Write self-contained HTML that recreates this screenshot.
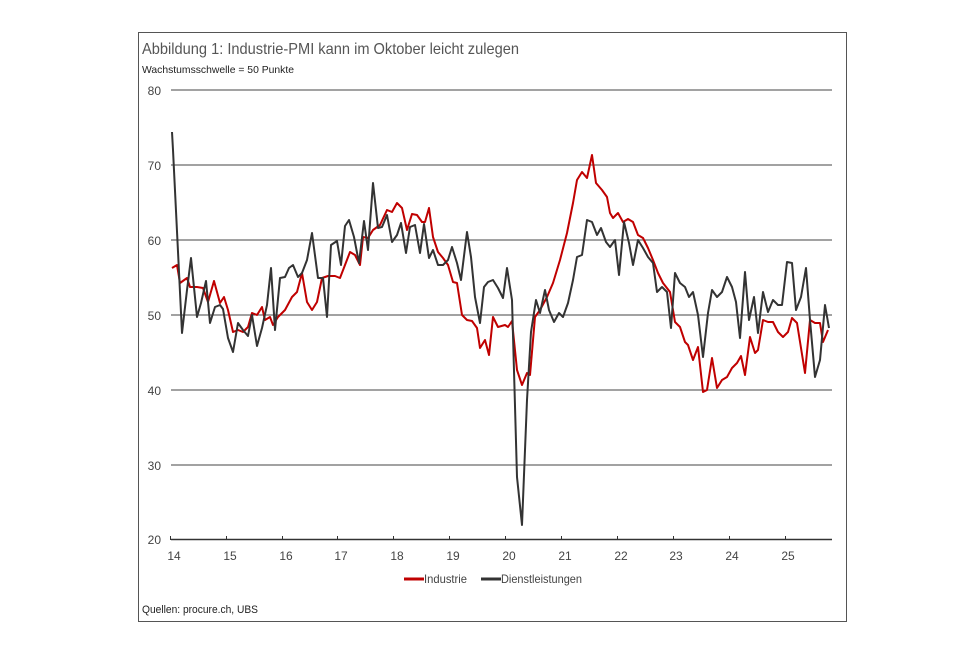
<!DOCTYPE html>
<html><head><meta charset="utf-8"><style>
body{margin:0;background:#fff;width:980px;height:655px;overflow:hidden;font-family:"Liberation Sans",sans-serif}
svg{position:absolute;left:0;top:0}
</style></head><body>
<svg width="980" height="655" viewBox="0 0 980 655" font-family="Liberation Sans, sans-serif">
<rect x="138.5" y="32.5" width="708" height="589" fill="none" stroke="#555" stroke-width="1"/>
<text x="142" y="54" font-size="16" fill="#555" textLength="377" lengthAdjust="spacingAndGlyphs">Abbildung 1: Industrie-PMI kann im Oktober leicht zulegen</text>
<text x="142" y="73" font-size="10.5" fill="#222" textLength="152" lengthAdjust="spacingAndGlyphs">Wachstumsschwelle = 50 Punkte</text>
<g stroke="#444" stroke-width="1">
<line x1="171" y1="90" x2="832" y2="90"/><line x1="171" y1="165" x2="832" y2="165"/>
<line x1="171" y1="240" x2="832" y2="240"/><line x1="171" y1="315" x2="832" y2="315"/>
<line x1="171" y1="390" x2="832" y2="390"/><line x1="171" y1="465" x2="832" y2="465"/>
</g>
<line x1="171" y1="539.5" x2="832" y2="539.5" stroke="#333" stroke-width="1.5"/>
<g stroke="#333" stroke-width="1">
<line x1="170.5" y1="536" x2="170.5" y2="540"/><line x1="226.5" y1="536" x2="226.5" y2="540"/><line x1="282.5" y1="536" x2="282.5" y2="540"/><line x1="337.5" y1="536" x2="337.5" y2="540"/><line x1="393.5" y1="536" x2="393.5" y2="540"/><line x1="449.5" y1="536" x2="449.5" y2="540"/><line x1="505.5" y1="536" x2="505.5" y2="540"/><line x1="561.5" y1="536" x2="561.5" y2="540"/><line x1="617.5" y1="536" x2="617.5" y2="540"/><line x1="673.5" y1="536" x2="673.5" y2="540"/><line x1="729.5" y1="536" x2="729.5" y2="540"/><line x1="785.5" y1="536" x2="785.5" y2="540"/>
</g>
<g font-size="12" fill="#444" text-anchor="end">
<text x="161" y="95">80</text><text x="161" y="170">70</text><text x="161" y="245">60</text><text x="161" y="320">50</text><text x="161" y="395">40</text><text x="161" y="470">30</text><text x="161" y="544">20</text>
</g>
<g font-size="12" fill="#444" text-anchor="middle">
<text x="174" y="560">14</text><text x="230" y="560">15</text><text x="286" y="560">16</text><text x="341" y="560">17</text><text x="397" y="560">18</text><text x="453" y="560">19</text><text x="509" y="560">20</text><text x="565" y="560">21</text><text x="621" y="560">22</text><text x="676" y="560">23</text><text x="732" y="560">24</text><text x="788" y="560">25</text>
</g>
<polyline fill="none" stroke="#c00000" stroke-width="2" stroke-linejoin="round" points="172,268 177,265 180,283 187,278 190,287 197,287 203,288 208,302 214,281 220,303 224,297 228,310 233,332 238,330 243,332 248,327 252,313 257,315 262,307 265,320 270,317 273,325 278,317 285,310 292,297 297,292 302,273 307,302 312,310 317,302 322,278 328,276 335,276 340,278 345,265 350,252 355,255 360,265 363,237 368,238 373,230 380,225 387,210 392,212 397,203 402,208 407,230 412,214 417,215 422,222 425,222 429,208 433,237 438,252 443,258 448,265 453,282 457,283 462,315 467,320 472,321 477,328 480,348 485,340 489,355 493,317 498,327 505,325 508,327 512,321 517,370 522,385 527,373 530,375 535,317 540,310 547,297 553,283 560,260 567,233 573,203 577,180 582,172 587,178 592,155 596,183 602,190 607,197 610,213 613,218 618,213 623,222 628,219 633,222 638,235 643,238 648,248 653,260 658,273 663,283 670,292 675,322 680,327 685,342 688,345 693,360 698,347 703,392 707,390 712,358 717,388 722,380 727,377 732,368 737,363 741,356 745,375 750,337 755,353 758,350 763,320 768,322 773,322 778,332 783,337 788,332 792,318 797,323 805,373 810,320 815,323 820,323 823,342 828,330"/>
<polyline fill="none" stroke="#333" stroke-width="2" stroke-linejoin="round" points="172,132 173,150 182,333 187,290 191,258 197,317 201,303 206,281 210,323 215,307 220,305 223,309 228,338 233,352 238,323 243,330 248,336 252,315 257,346 262,328 267,305 271,268 275,330 280,278 285,277 289,268 293,265 298,277 302,273 307,260 312,233 318,278 323,278 327,317 331,245 337,241 341,265 345,226 349,220 354,237 359,263 364,221 368,250 373,183 378,228 382,227 387,215 392,242 397,235 401,223 406,253 410,227 415,225 420,253 424,224 429,258 433,250 438,265 443,265 448,260 452,247 457,263 461,280 467,232 471,257 475,297 480,323 484,287 488,282 493,280 498,288 503,298 507,268 512,300 517,477 522,525 527,400 531,332 536,300 540,313 545,290 549,310 554,322 559,313 563,317 568,303 573,280 577,257 582,255 587,220 592,222 597,235 601,228 606,242 610,247 615,240 619,275 624,222 629,243 633,265 638,240 643,248 648,257 653,263 657,292 662,287 667,292 671,328 675,273 680,283 685,287 689,297 693,292 698,315 703,357 708,313 712,290 717,297 722,292 727,277 732,287 736,302 740,338 745,272 749,320 754,297 758,333 763,292 768,312 773,300 778,305 782,305 787,262 792,263 796,310 801,297 806,268 810,320 815,377 820,360 825,305 829,328"/>
<line x1="404" y1="579" x2="424" y2="579" stroke="#c00000" stroke-width="3"/>
<text x="424" y="583" font-size="12" fill="#444" textLength="43" lengthAdjust="spacingAndGlyphs">Industrie</text>
<line x1="481" y1="579" x2="501" y2="579" stroke="#333" stroke-width="3"/>
<text x="501" y="583" font-size="12" fill="#444" textLength="81" lengthAdjust="spacingAndGlyphs">Dienstleistungen</text>
<text x="142" y="613" font-size="11" fill="#222" textLength="116" lengthAdjust="spacingAndGlyphs">Quellen: procure.ch, UBS</text>
</svg>
</body></html>
